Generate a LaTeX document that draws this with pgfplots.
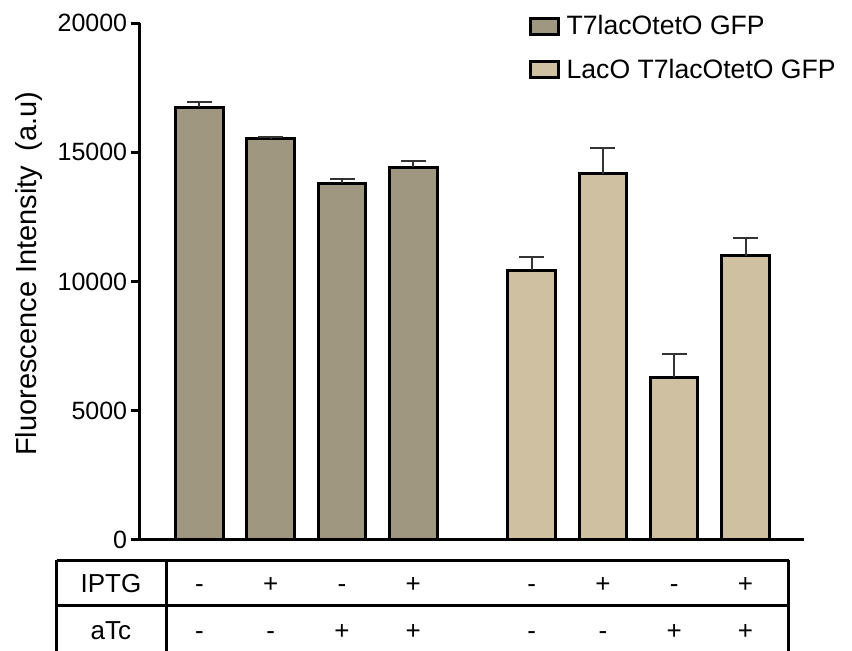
\documentclass[border=0pt]{standalone}
\usepackage{pgfplots}
\pgfplotsset{compat=1.18}
\usepackage{fontspec}
\setmainfont{Liberation Sans}
\definecolor{darkbar}{RGB}{160,151,128}
\definecolor{lightbar}{RGB}{206,192,160}
\pgfplotsset{boxlegend/.style={legend image code/.code={\draw[##1,line width=1.5pt] (0pt,-4pt) rectangle (14pt,4pt);}}}
\begin{document}
\begin{tikzpicture}
\begin{axis}[
 scale only axis, width=332.25pt, height=258.5pt,
 xmin=-0.84, xmax=8.48, ymin=0, ymax=20000,
 axis x line*=bottom, axis y line*=left,
 axis line style={line width=1.5pt},
 xtick=\empty,
 ytick={0,5000,10000,15000,20000},
 tick align=outside, major tick length=4.5pt,
 tick style={line width=1.5pt, black},
 /pgf/number format/assume math mode=true,
 /pgf/number format/1000 sep={},
 scaled y ticks=false,
 yticklabel style={font=\fontsize{12.5}{15}\selectfont, inner xsep=1.5pt},
 ylabel={Fluorescence Intensity\hspace{0.5em}(a.u)},
 ylabel style={at={(axis description cs:-0.167,0.515)}, anchor=center, font=\fontsize{14.5}{17}\selectfont},
 ybar, bar width=0.666,
 clip=false,
 legend style={at={(0.585,1.023)}, anchor=north west, draw=none, fill=none,
   font=\fontsize{13.3}{15}\selectfont, row sep=6.5pt, inner sep=0pt, cells={anchor=west},
   /tikz/every odd column/.append style={column sep=1.5pt}},
]
\addplot[ybar, bar shift=0pt, fill=darkbar, draw=black, line width=1.5pt, boxlegend,
  error bars/.cd, y dir=plus, y explicit,
  error bar style={line width=1pt,black!80},
  error mark options={rotate=90,mark size=6.25pt,line width=1pt,black!80}]
 coordinates {(0,16750) +- (0,175) (1,15520) +- (0,80) (2,13810) +- (0,170) (3,14425) +- (0,230)};
\addlegendentry{T7lacOtetO GFP}
\addplot[ybar, bar shift=0pt, fill=lightbar, draw=black, line width=1.5pt, boxlegend,
  error bars/.cd, y dir=plus, y explicit,
  error bar style={line width=1pt,black!80},
  error mark options={rotate=90,mark size=6.25pt,line width=1pt,black!80}]
 coordinates {(4.66,10430) +- (0,530) (5.66,14170) +- (0,990) (6.66,6290) +- (0,890) (7.66,10990) +- (0,695)};
\addlegendentry{LacO T7lacOtetO GFP}
% condition table
\draw[line width=1.5pt] (axis cs:-2.001,-774) -- (axis cs:8.269,-774);
\draw[line width=1.5pt] (axis cs:-2.001,-2542) -- (axis cs:8.269,-2542);
\draw[line width=1.5pt] (axis cs:-2.001,-774) -- (axis cs:-2.001,-4294);
\draw[line width=1.5pt] (axis cs:-0.468,-774) -- (axis cs:-0.468,-4294);
\draw[line width=1.5pt] (axis cs:8.269,-774) -- (axis cs:8.269,-4294);
\begin{scope}[every node/.style={font=\fontsize{13}{15}\selectfont, anchor=base, inner sep=0pt}]
\node at (axis cs:-1.241,-2012) {IPTG};
\node at (axis cs:-1.241,-3868) {aTc};
\node at (axis cs:0,-2012) {-};
\node at (axis cs:1,-2012) {+};
\node at (axis cs:2,-2012) {-};
\node at (axis cs:3,-2012) {+};
\node at (axis cs:4.66,-2012) {-};
\node at (axis cs:5.66,-2012) {+};
\node at (axis cs:6.66,-2012) {-};
\node at (axis cs:7.66,-2012) {+};
\node at (axis cs:0,-3868) {-};
\node at (axis cs:1,-3868) {-};
\node at (axis cs:2,-3868) {+};
\node at (axis cs:3,-3868) {+};
\node at (axis cs:4.66,-3868) {-};
\node at (axis cs:5.66,-3868) {-};
\node at (axis cs:6.66,-3868) {+};
\node at (axis cs:7.66,-3868) {+};
\end{scope}
\coordinate (BL) at (axis cs:-2.797,-4294);
\coordinate (TR) at (axis cs:9.153,20890);
\end{axis}
\pgfresetboundingbox
\path[use as bounding box] (BL) rectangle (TR);
\end{tikzpicture}
\end{document}
